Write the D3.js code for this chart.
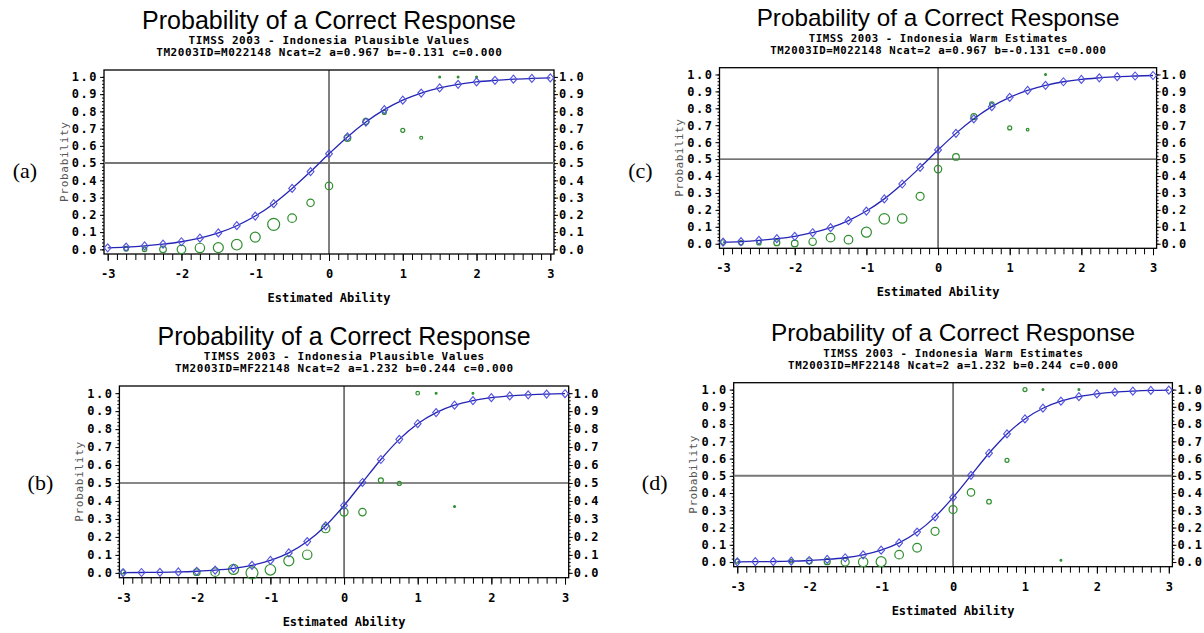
<!DOCTYPE html>
<html>
<head>
<meta charset="utf-8">
<script src="https://cdn.jsdelivr.net/npm/d3@7"></script>
<style>
  body { margin: 0; background: #fff; }
  svg { display: block; }
  .mono { font-family: "DejaVu Sans Mono", monospace; }
</style>
</head>
<body>
<div id="chart"></div>
<script>
// ability grid (x values of every plotted point)
const thetaGrid = [-3, -2.75, -2.5, -2.25, -2, -1.75, -1.5, -1.25, -1, -0.75, -0.5, -0.25,
  0, 0.25, 0.5, 0.75, 1, 1.25, 1.5, 1.75, 2, 2.25, 2.5, 2.75, 3];

// fitted item curves
const fitM022148 = [0.009, 0.013, 0.020, 0.030, 0.044, 0.065, 0.095, 0.137, 0.193, 0.265, 0.353, 0.451,
  0.554, 0.652, 0.738, 0.810, 0.865, 0.906, 0.936, 0.957, 0.971, 0.980, 0.987, 0.991, 0.994];
const fitMF22148 = [0.001, 0.002, 0.003, 0.005, 0.009, 0.015, 0.025, 0.042, 0.069, 0.111, 0.174, 0.262,
  0.375, 0.503, 0.631, 0.743, 0.830, 0.892, 0.933, 0.959, 0.975, 0.985, 0.991, 0.995, 0.997];

// observed proportions: [theta, proportion, count]
const obsA = [[-2.75, 0.004, 53], [-2.5, 0.0, 50], [-2.25, 0.0, 110], [-2, 0.0, 185], [-1.75, 0.008, 220],
  [-1.5, 0.01, 250], [-1.25, 0.027, 280], [-1, 0.071, 250], [-0.75, 0.145, 360], [-0.5, 0.181, 185],
  [-0.25, 0.27, 137], [0, 0.368, 137], [0.25, 0.645, 110], [0.5, 0.742, 90], [0.75, 0.794, 40],
  [1, 0.69, 40], [1.25, 0.647, 22], [1.5, 1.0, 8], [1.75, 1.0, 3], [2, 1.0, 3]];
const obsC = [[-3, 0.01, 53], [-2.75, 0.006, 50], [-2.5, 0.006, 50], [-2.25, 0.006, 90], [-2, 0.002, 110],
  [-1.75, 0.012, 137], [-1.5, 0.036, 185], [-1.25, 0.024, 185], [-1, 0.068, 250], [-0.75, 0.147, 280],
  [-0.5, 0.149, 220], [-0.25, 0.28, 160], [0, 0.441, 137], [0.25, 0.513, 110], [0.5, 0.751, 90],
  [0.75, 0.825, 53], [1, 0.684, 40], [1.25, 0.674, 17], [1.5, 1.0, 8]];
const obsB = [[-3, 0.005, 40], [-2, 0.004, 110], [-1.75, 0.004, 185], [-1.5, 0.019, 250], [-1.25, 0.0, 360],
  [-1, 0.017, 280], [-0.75, 0.067, 250], [-0.5, 0.101, 220], [-0.25, 0.247, 185], [0, 0.338, 160],
  [0.25, 0.338, 137], [0.5, 0.515, 62], [0.75, 0.498, 40], [1, 1.0, 32], [1.25, 1.0, 6],
  [1.5, 0.369, 6], [1.75, 1.0, 6]];
const obsD = [[-3, 0.005, 40], [-2.25, 0.005, 30], [-2, 0.006, 90], [-1.75, 0.002, 90], [-1.5, 0.0, 160],
  [-1.25, 0.0, 220], [-1, 0.002, 250], [-0.75, 0.043, 185], [-0.5, 0.083, 185], [-0.25, 0.178, 160],
  [0, 0.304, 160], [0.25, 0.404, 137], [0.5, 0.35, 53], [0.75, 0.59, 40], [1, 1.0, 40],
  [1.25, 1.0, 6], [1.5, 0.01, 6], [1.75, 1.0, 6]];

const xTickLabels = [-3, -2, -1, 0, 1, 2, 3];
const yTickLabels = [0, 0.1, 0.2, 0.3, 0.4, 0.5, 0.6, 0.7, 0.8, 0.9, 1.0];

const titleText = 'Probability of a Correct Response';
const subPV = 'TIMSS 2003 - Indonesia Plausible Values';
const subWLE = 'TIMSS 2003 - Indonesia Warm Estimates';
const paramsM022148 = 'TM2003ID=M022148 Ncat=2 a=0.967 b=-0.131 c=0.000';
const paramsMF22148 = 'TM2003ID=MF22148 Ncat=2 a=1.232 b=0.244 c=0.000';

const W = 1204, H = 633;
const svg = d3.select('#chart').append('svg').attr('width', W).attr('height', H);

const rScale = d3.scaleSqrt().domain([0, 360]).range([0, 6]);

const panels = [
  {tag: '(a)', frame: [104, 70, 554, 254], labelY: 170, fit: fitM022148, obs: obsA, sub: subPV, params: paramsM022148, ref: {c: '#777', w: 2}},
  {tag: '(c)', frame: [719.5, 67.7, 1156.6, 248.3], labelY: 170, fit: fitM022148, obs: obsC, sub: subWLE, params: paramsM022148, ref: {c: '#444', w: 1.2}},
  {tag: '(b)', frame: [119.4, 386, 568.7, 577.7], labelY: 482, fit: fitMF22148, obs: obsB, sub: subPV, params: paramsMF22148, ref: {c: '#111', w: 1.2}},
  {tag: '(d)', frame: [733.7, 382.7, 1172.4, 566.7], labelY: 482, fit: fitMF22148, obs: obsD, sub: subWLE, params: paramsMF22148, ref: {c: '#777', w: 2}}
];

panels.forEach(drawPanel);

function drawPanel(p) {
  const [left, top, right, bottom] = p.frame;
  const k = (right - left) / 450;
  const cx = (left + right) / 2;

  const x = d3.scaleLinear().domain([-3.05, 3.05]).range([left, right]);
  const y = d3.scaleLinear().domain([-0.027, 1.04]).range([bottom, top]);

  const g = svg.append('g');

  // titles
  g.append('text').attr('x', cx).attr('y', top - 50).attr('text-anchor', 'middle')
    .attr('dominant-baseline', 'central')
    .style('font-family', '"Liberation Sans", Arial, sans-serif').style('font-size', (25 * k) + 'px')
    .text(titleText);
  [[p.sub, top - 29.5], [p.params, top - 17.3]].forEach(([t, ty]) => {
    g.append('text').attr('class', 'mono').attr('x', cx).attr('y', ty)
      .attr('text-anchor', 'middle').attr('dominant-baseline', 'central')
      .attr('textLength', t.length * 7.2 * k).attr('lengthAdjust', 'spacing')
      .style('font-size', (11 * k) + 'px').style('font-weight', 'bold')
      .text(t);
  });

  // panel tag
  g.append('text').attr('x', left - 79).attr('y', p.labelY).attr('text-anchor', 'middle')
    .attr('dominant-baseline', 'central')
    .style('font-family', '"Liberation Serif", "Times New Roman", serif').style('font-size', '22px')
    .text(p.tag);

  // axes
  const fmt = d3.format('.1f');
  const minorY = d3.range(0, 1.0001, 0.02);
  const yMajorL = d3.axisLeft(y).tickValues(yTickLabels).tickFormat(fmt).tickSize(4).tickSizeOuter(0);
  const yMajorR = d3.axisRight(y).tickValues(yTickLabels).tickFormat(fmt).tickSize(4).tickSizeOuter(0);
  const yMinorL = d3.axisLeft(y).tickValues(minorY).tickFormat('').tickSize(2).tickSizeOuter(0);
  const yMinorR = d3.axisRight(y).tickValues(minorY).tickFormat('').tickSize(2).tickSizeOuter(0);
  const xMinor = d3.axisBottom(x).tickValues(d3.range(-3, 3.0001, 0.125)).tickFormat('').tickSize(6).tickSizeOuter(0);
  const xMajor = d3.axisBottom(x).tickValues(xTickLabels).tickFormat(d3.format('d')).tickSize(7).tickSizeOuter(0);

  function styleAxis(sel) {
    sel.select('.domain').remove();
    sel.selectAll('line').attr('stroke', '#000').attr('stroke-width', 1);
    sel.selectAll('text').attr('class', 'mono').style('font-size', '12px').style('font-weight', 'bold')
      .attr('fill', '#000');
  }

  g.append('g').attr('transform', `translate(${left},0)`).call(yMinorL).call(styleAxis);
  g.append('g').attr('transform', `translate(${right},0)`).call(yMinorR).call(styleAxis);
  g.append('g').attr('transform', `translate(${left},0)`).call(yMajorL).call(styleAxis)
    .selectAll('text').attr('x', -6).style('letter-spacing', '1.5px');
  g.append('g').attr('transform', `translate(${right},0)`).call(yMajorR).call(styleAxis)
    .selectAll('text').attr('x', 5).style('letter-spacing', '1.5px');
  g.append('g').attr('transform', `translate(0,${bottom})`).call(xMinor).call(styleAxis);
  const xg = g.append('g').attr('transform', `translate(0,${bottom})`).call(xMajor).call(styleAxis);
  xg.selectAll('text').attr('y', 20).attr('dy', null).attr('dominant-baseline', 'central')
    .text(d => d < 0 ? '-' + Math.abs(d) : d);

  // frame
  g.append('rect').attr('x', left).attr('y', top).attr('width', right - left).attr('height', bottom - top)
    .attr('fill', 'none').attr('stroke', '#000').attr('stroke-width', 1.3);

  // axis titles
  g.append('text').attr('class', 'mono').attr('x', cx).attr('y', bottom + 44)
    .attr('text-anchor', 'middle').attr('dominant-baseline', 'central')
    .style('font-size', '12px').style('font-weight', 'bold').text('Estimated Ability');
  g.append('text').attr('class', 'mono')
    .attr('transform', `translate(${left - 40},${(top + bottom) / 2}) rotate(-90)`)
    .attr('text-anchor', 'middle').attr('dominant-baseline', 'central')
    .attr('textLength', 80 * k).attr('lengthAdjust', 'spacing')
    .style('font-size', '11px').attr('fill', '#555').text('Probability');

  // reference lines
  g.append('line').attr('x1', x(0)).attr('x2', x(0)).attr('y1', top).attr('y2', bottom)
    .attr('stroke', '#000').attr('stroke-width', 1);
  g.append('line').attr('x1', left).attr('x2', right).attr('y1', y(0.5)).attr('y2', y(0.5))
    .attr('stroke', p.ref.c).attr('stroke-width', p.ref.w);

  // observed proportions
  g.append('g').selectAll('circle').data(p.obs).join('circle')
    .attr('cx', d => x(d[0])).attr('cy', d => y(d[1]))
    .attr('r', d => Math.max(0.9, rScale(d[2])))
    .attr('fill', d => d[2] < 10 ? '#2f8f2f' : 'none')
    .attr('stroke', '#2f8f2f').attr('stroke-width', 1.2);

  // fitted curve
  const pts = thetaGrid.map((t, i) => [t, p.fit[i]]);
  g.append('path').datum(pts)
    .attr('d', d3.line().x(d => x(d[0])).y(d => y(d[1])).curve(d3.curveMonotoneX))
    .attr('fill', 'none').attr('stroke', '#2424b4').attr('stroke-width', 1.3);
  g.append('g').selectAll('path').data(pts).join('path')
    .attr('transform', d => `translate(${x(d[0])},${y(d[1])})`)
    .attr('d', 'M0,-4L3.4,0L0,4L-3.4,0Z')
    .attr('fill', 'none').attr('stroke', '#5252e0').attr('stroke-width', 1.1);
}
</script>
</body>
</html>
